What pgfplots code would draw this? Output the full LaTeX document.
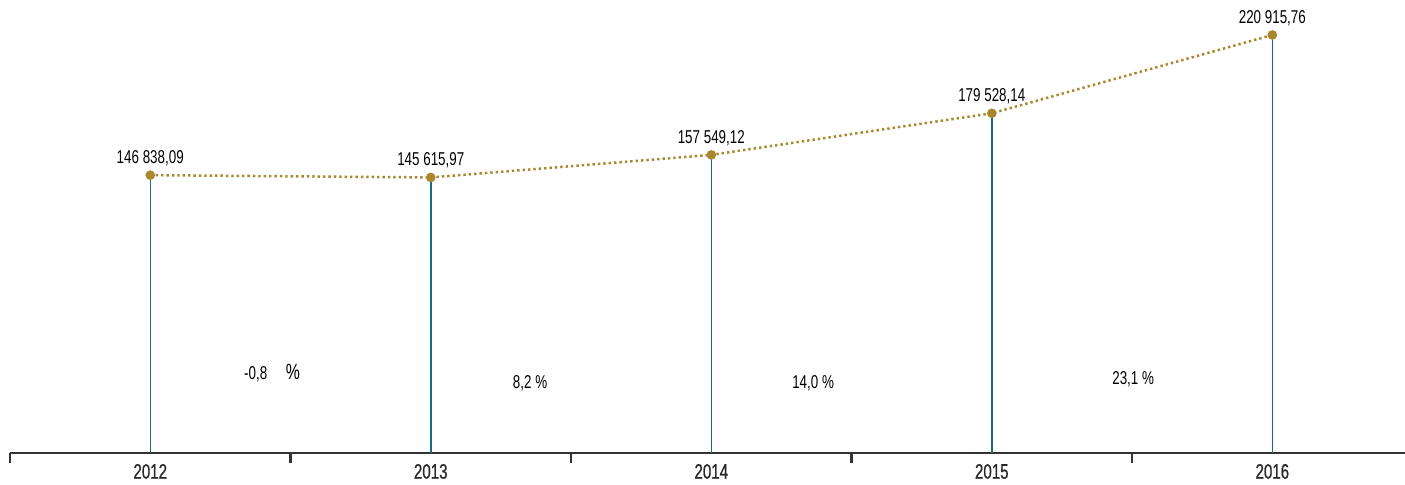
\documentclass[border=0pt]{standalone}
\usepackage{fontspec}
\setmainfont[FakeStretch=0.72]{Liberation Sans}
\newfontfamily\yearfont[FakeStretch=0.72, FakeBold=0.8]{Liberation Sans}
\usepackage{pgfplots}
\pgfplotsset{compat=1.18}
\definecolor{combblue}{HTML}{1A6B8A}
\definecolor{gold}{HTML}{A8872F}
\definecolor{axisgray}{HTML}{333333}
\begin{document}
\begin{tikzpicture}
\begin{axis}[
  scale only axis,
  width=697.5bp, height=226.5bp,
  xmin=-0.5, xmax=4.473,
  ymin=0, ymax=239400,
  axis y line=none,
  axis x line=bottom,
  axis line style={line width=1.2bp, color=axisgray, -},
  xtick={0,1,2,3,4},
  xticklabels={2012,2013,2014,2015,2016},
  major tick length=0pt,
  minor xtick={-0.5,0.5,1.5,2.5,3.5},
  minor tick length=5bp,
  tick align=outside,
  tick style={line width=1.2bp, color=axisgray},
  xticklabel style={font=\yearfont\fontsize{10.5bp}{12bp}\selectfont, yshift=-2bp, text=axisgray!80!black},
  clip=false,
  /pgf/number format/assume math mode=true,
]
\addplot[ycomb, combblue, line width=0.75bp] coordinates {
  (0,146838.09) (1,145615.97) (2,157549.12) (3,179528.14) (4,220915.76)
};
\addplot[gold, line width=1.25bp, dash pattern=on 1.2bp off 1.5bp,
  mark=*, mark size=1.75bp, mark options={solid, fill=gold, draw=gold},
  point meta=explicit symbolic,
  nodes near coords,
  nodes near coords style={anchor=south, yshift=3bp, inner sep=1bp, text=black,
    font=\fontsize{9.3bp}{11bp}\selectfont},
] coordinates {
  (0,146838.09) [146 838,09]
  (1,145615.97) [145 615,97]
  (2,157549.12) [157 549,12]
  (3,179528.14) [179 528,14]
  (4,220915.76) [220 915,76]
};
\begin{scope}[font=\fontsize{9.3bp}{11bp}\selectfont]
\node at (axis cs:0.434,42283) {-0,8\quad{\fontsize{11bp}{12bp}\selectfont\%}};
\node at (axis cs:1.354,37000) {8,2 \%};
\node at (axis cs:2.363,37000) {14,0 \%};
\node at (axis cs:3.504,39111) {23,1 \%};
\end{scope}
\end{axis}
\pgfresetboundingbox
\path (current axis.south west) ++(-5bp,-16bp) coordinate (bbsw);
\path[use as bounding box] (bbsw) rectangle (current axis.north east);
\end{tikzpicture}
\end{document}
